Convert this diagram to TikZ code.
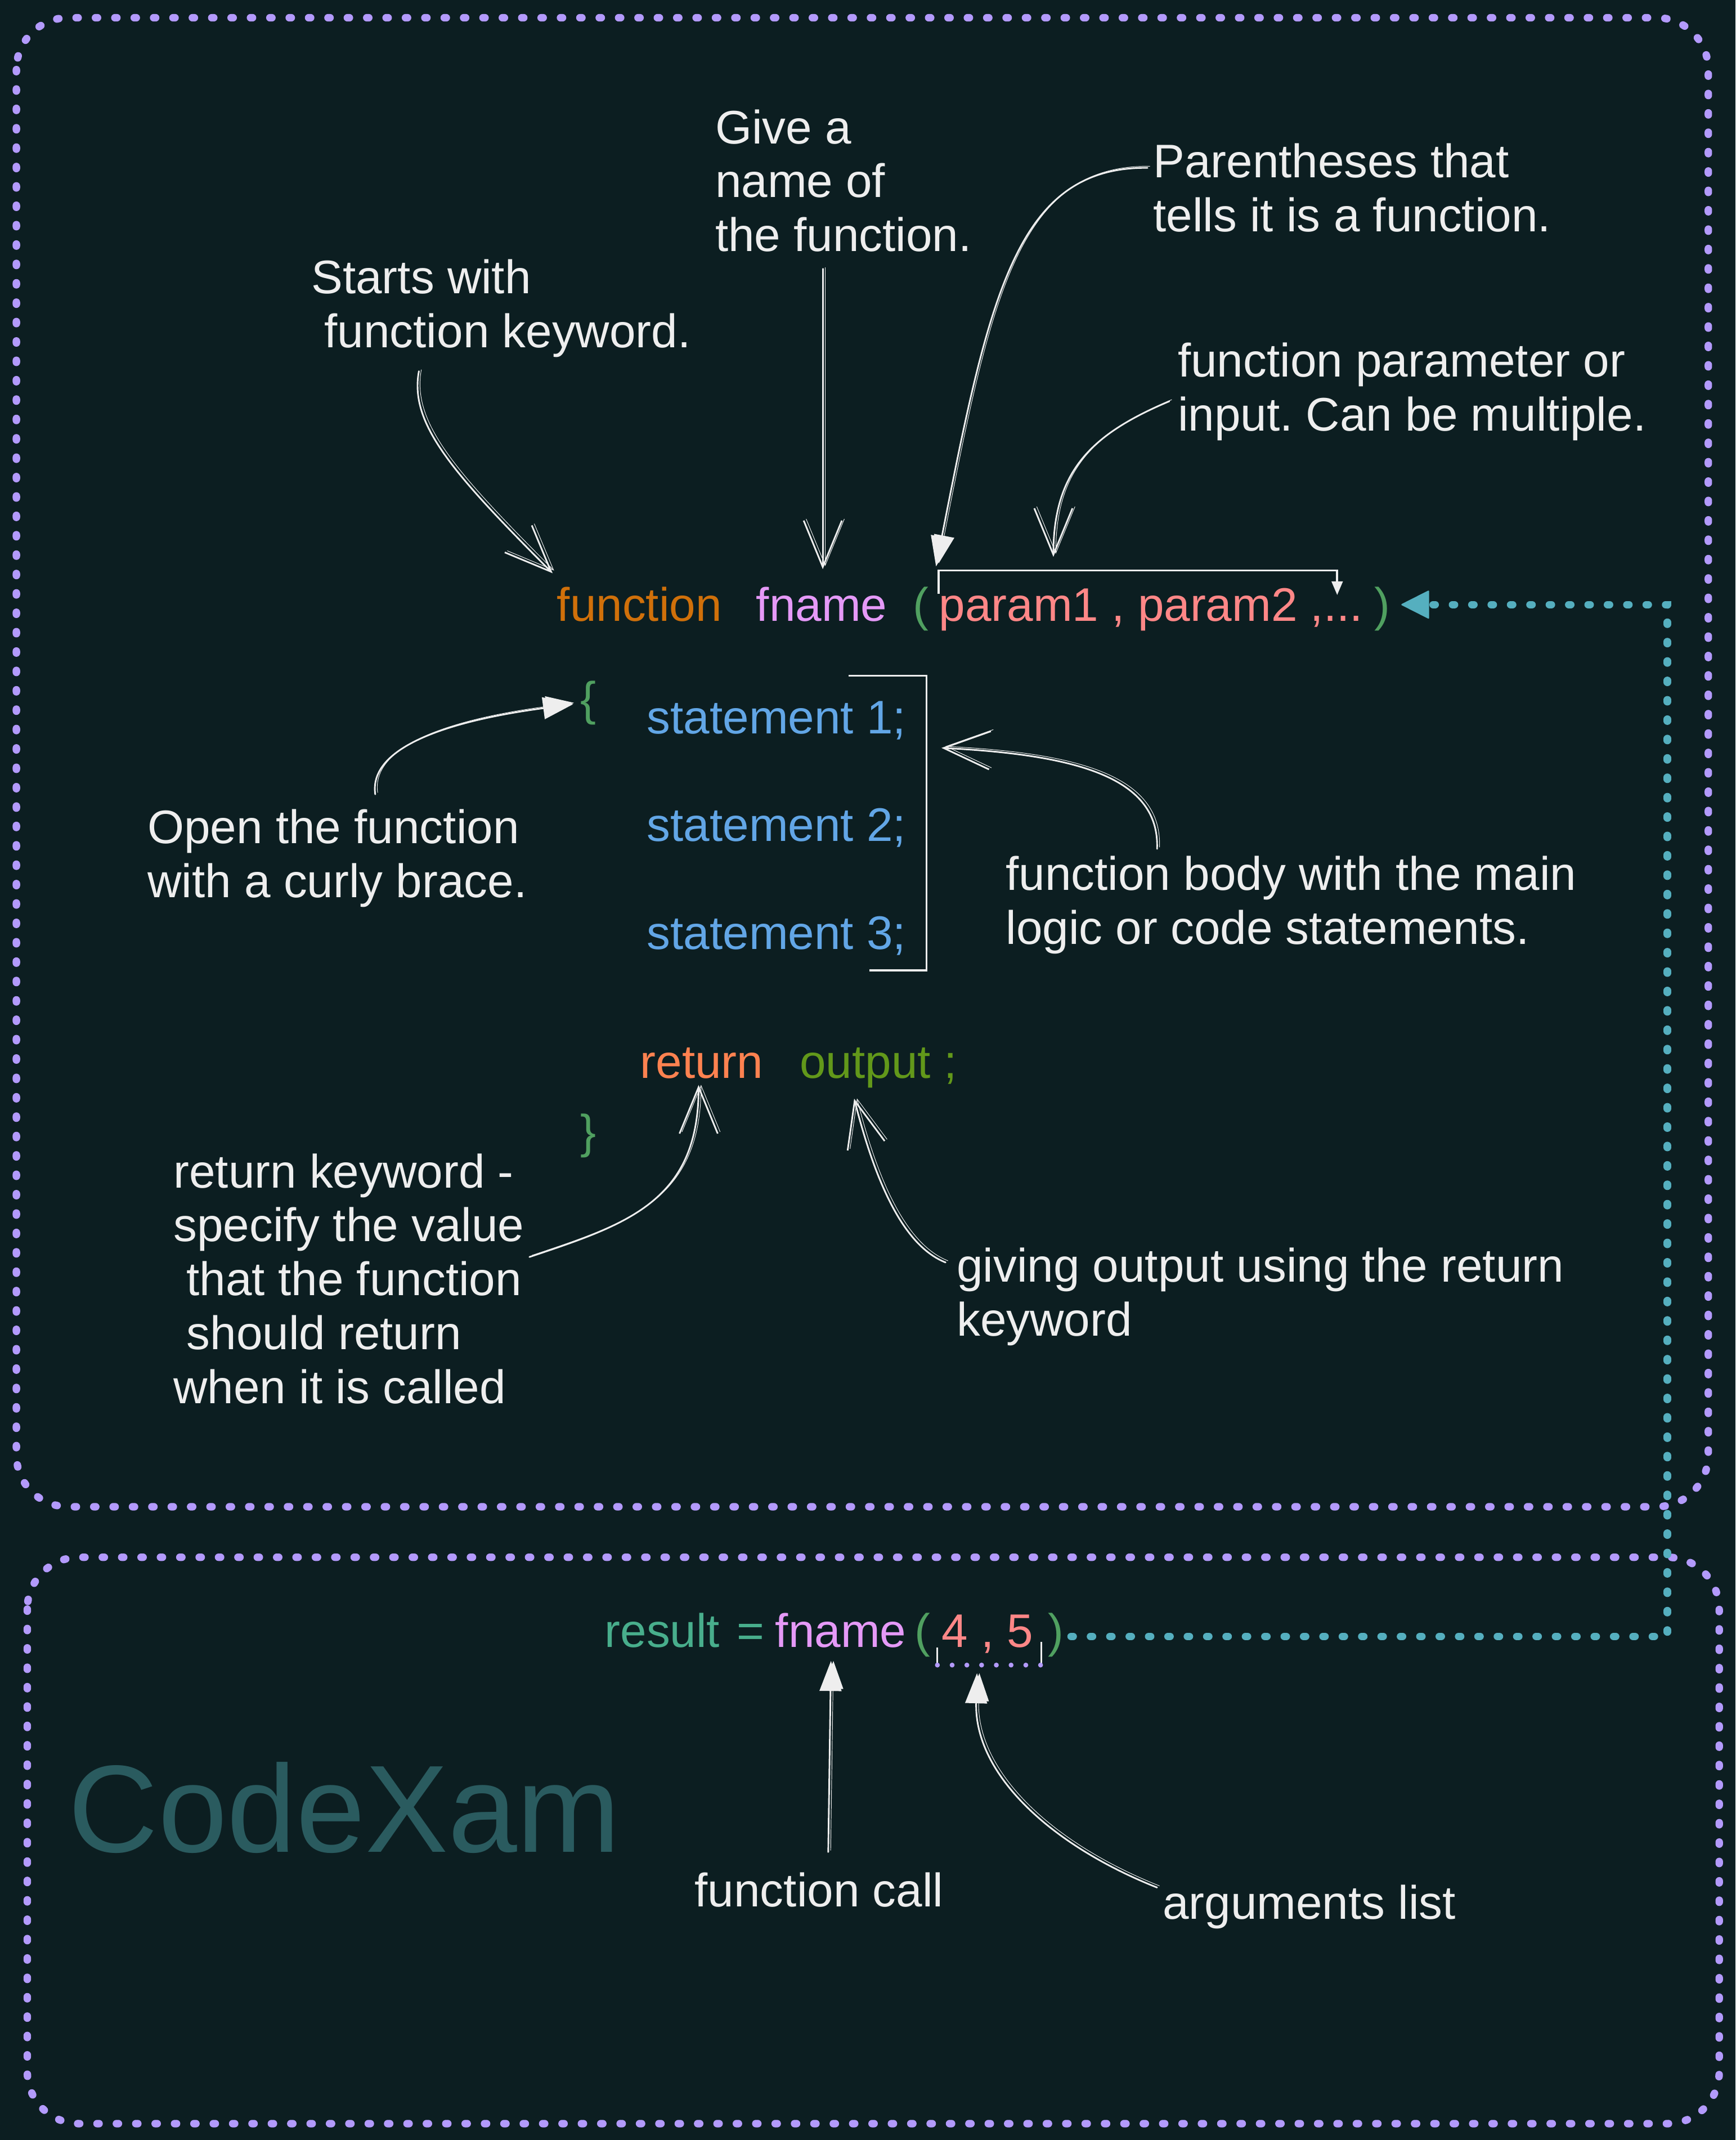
\documentclass[tikz,border=0pt]{standalone}
\usepackage{fontspec}
\setmainfont{Liberation Sans}
\frenchspacing
\usetikzlibrary{arrows.meta,calc}
\definecolor{bgdark}{HTML}{0C1E21}
\definecolor{boxpurple}{HTML}{B39AFC}
\definecolor{linkteal}{HTML}{55AFBF}
\definecolor{inkwhite}{HTML}{EEEEEE}
\definecolor{kwfuncorange}{HTML}{D0700A}
\definecolor{namepink}{HTML}{E599F7}
\definecolor{paramred}{HTML}{FF8787}
\definecolor{parengreen}{HTML}{50A060}
\definecolor{stmtblue}{HTML}{62A6E6}
\definecolor{returnorange}{HTML}{FF8250}
\definecolor{outputgreen}{HTML}{62981A}
\definecolor{resultteal}{HTML}{48AE8C}
\definecolor{brandteal}{HTML}{2A5B5F}
\tikzset{
  frame/.style={draw=boxpurple, line width=5.5pt, line cap=round,
    dash pattern=on 1.5pt off 12.7pt, rounded corners=38pt},
  link/.style={draw=linkteal, line width=5.5pt, line cap=round,
    dash pattern=on 1.5pt off 12.7pt},
  note/.style={text=inkwhite, align=left, anchor=north west, inner sep=0pt,
    font=\fontsize{34.5pt}{39.5pt}\selectfont},
  code/.style={anchor=base west, inner sep=0pt,
    font=\fontsize{34.5pt}{39.5pt}\selectfont},
  sketch/.style={draw=inkwhite, line width=1.2pt, line cap=round, line join=round,
    preaction={draw=inkwhite, transform canvas={shift={(1.8pt,1.2pt)}}}},
  barb/.style={-{Straight Barb[length=34pt,width=28pt]}},
  solidtip/.style={-{Triangle[length=22pt,width=16pt]}},
}
\begin{document}
\begin{tikzpicture}[x=1pt, y=-1pt]
\path[use as bounding box, fill=bgdark] (0,0) rectangle (1272,1568);
% the two dotted frames
\draw[frame] (12,13) rectangle (1252,1104);
\draw[frame] (20,1141) rectangle (1260,1556);

% definition of the function
\node[code, text=kwfuncorange] (kwfunc) at (408,455) {function};
\node[code, text=namepink] (defname) at (554,455) {fname};
\node[code, text=parengreen] (defopen) at (669,455) {(};
\node[code, text=paramred] (defparams) at (688,455) {param1 , param2 ,...};
\node[code, text=parengreen] (defclose) at (1007,455) {)};
\node[code, text=parengreen] (openbrace) at (425,524) {\{};
\foreach \n/\y in {1/537.5,2/616.5,3/695.5}
  \node[code, text=stmtblue] (stmt\n) at (474,\y) {statement \n;};
\node[code, text=returnorange] (kwreturn) at (469,790) {return};
\node[code, text=outputgreen] (retout) at (586,790) {output ;};
\node[code, text=parengreen] (closebrace) at (425,841) {\}};

% calling it
\node[code, text=resultteal] (callresult) at (443,1207) {result};
\node[code, text=resultteal] (calleq) at (540,1207) {=};
\node[code, text=namepink] (callname) at (568,1207) {fname};
\node[code, text=parengreen] (callopen) at (670,1207) {(};
\node[code, text=paramred] (callargs) at (690,1207) {4 , 5};
\node[code, text=parengreen] (callclose) at (768,1207) {)};

\node[anchor=base west, inner sep=0pt, text=brandteal,
  font=\fontsize{91pt}{100pt}\selectfont] (brand) at (50,1357) {CodeXam};

% notes
\node[note] (notename) at (524,80) {Give a\\name of\\the function.};
\node[note] (noteparen) at (845,105) {Parentheses that\\tells it is a function.};
\node[note] (notestart) at (228,190) {Starts with\\\hspace*{9.6pt}function keyword.};
\node[note] (noteparam) at (863,251) {function parameter or\\input. Can be multiple.};
\node[note] (notebrace) at (108,593) {Open the function\\with a curly brace.};
\node[note] (notebody) at (737,627) {function body with the main\\logic or code statements.};
\node[note] (notereturn) at (127,845) {return keyword -\\specify the value\\
  \hspace*{9.6pt}that the function\\\hspace*{9.6pt}should return\\when it is called};
\node[note] (noteoutput) at (701,914) {giving output using the return\\keyword};
\node[note] (notecall) at (509,1372) {function call};
\node[note] (noteargs) at (852,1381) {arguments list};

% arrows from the notes
\draw[sketch, barb] ($(notestart.north west)+(79,82)$) .. controls +(-7,38) and +(-75,-75) .. ($(kwfunc.base west)+(-3,-35)$);
\draw[sketch, barb] ($(notename.north west)+(79,117)$) -- ($(defname.base west)+(49,-38)$);
\draw[sketch, solidtip] ($(noteparen.north west)+(-4,18)$) .. controls +(-96,-1) and +(39,-199) .. ($(defopen.base west)+(17,-40)$);
\draw[sketch, barb] ($(noteparam.north west)+(-6,43)$) .. controls +(-57,24) and +(0,-63) .. ($(defparams.base west)+(84,-47)$);
\draw[sketch, solidtip] ($(notebrace.north west)+(167,-11)$) .. controls +(-5,-35) and +(-90,12) .. ($(openbrace.base west)+(-5,-8)$);
\draw[sketch, barb] ($(notebody.north west)+(111,-5)$) .. controls +(2,-52) and +(100,5) .. ($(stmt1.base west)+(216,10.5)$);
\draw[sketch, barb] ($(notereturn.north west)+(261,76)$) .. controls +(72,-24) and +(0,85) .. ($(kwreturn.base west)+(43,5)$);
\draw[sketch, barb] ($(noteoutput.north west)+(-8,11)$) .. controls +(-33,-13) and +(14,55) .. ($(retout.base west)+(40,15)$);
\draw[sketch, solidtip] ($(notecall.north west)+(98,-15)$) -- ($(callname.base west)+(41,10)$);
\draw[sketch, solidtip] ($(noteargs.north west)+(-4,2)$) .. controls +(-78,-31) and +(-2,74) .. ($(callargs.base west)+(26,19)$);

% brackets
\draw[inkwhite, line width=1.6pt, -{Triangle[length=10pt,width=8pt]}]
  ($(defparams.base west)+(0,-20)$) -- ++(0,-17) -- ++(292,0) -- ++(0,18);
\draw[inkwhite, line width=1.4pt] ($(stmt1.base west)+(148,-42.5)$) -| ($(stmt3.base west)+(205,15.5)$) -- ++(-42,0);
\draw[inkwhite, line width=1.2pt] ($(callargs.base west)+(-3,0)$) -- ++(0,13);
\draw[inkwhite, line width=1.2pt] ($(callargs.base west)+(73,-4)$) -- ++(0,17);
\draw[boxpurple, line width=3.6pt, line cap=round, dash pattern=on 0pt off 10.8pt]
  ($(callargs.base west)+(-3,13)$) -- ++(76,0);

% call goes back to the definition
\coordinate (linkturn) at (1222,1199);
\draw[link, -{Triangle[length=21pt,width=21pt,line width=1pt,round]}]
  ($(callclose.base west)+(17,-8)$) -- (linkturn) |- ($(defclose.base west)+(20,-12)$);
\end{tikzpicture}
\end{document}
